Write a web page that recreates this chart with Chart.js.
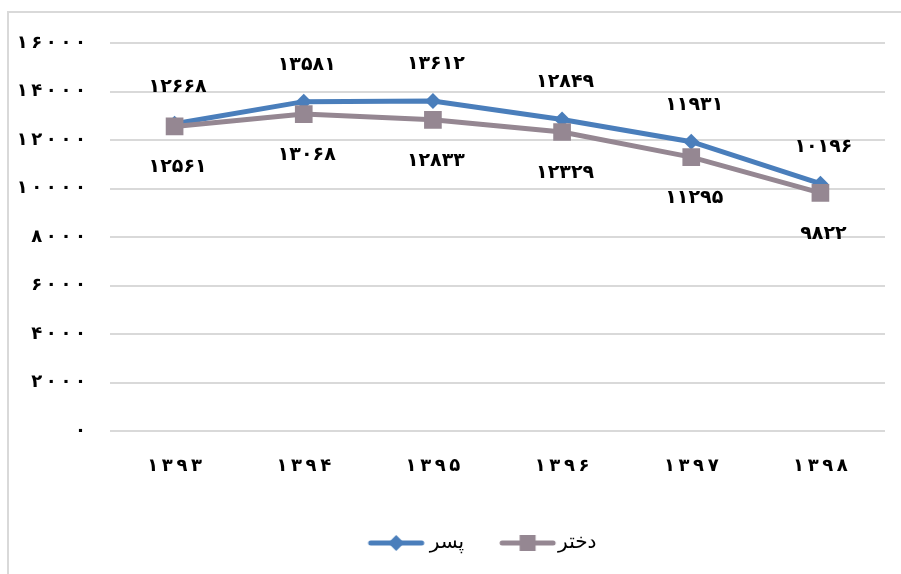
<!DOCTYPE html>
<html>
<head>
<meta charset="utf-8">
<script src="https://cdn.jsdelivr.net/npm/chart.js@4"></script>
<style>
  body { margin: 0; background: #fff; }
  #wrap { position: relative; width: 901px; height: 574px; overflow: hidden; }
  #frame { position: absolute; left: 7px; top: 11px; width: 1000px; height: 1000px; border-left: 2px solid #d9d9d9; border-top: 2px solid #d9d9d9; }
  canvas { position: absolute; left: 0; top: 0; }
</style>
</head>
<body>
<div id="wrap">
  <div id="frame"></div>
  <canvas id="chart" width="901" height="574"></canvas>
</div>
<script>
const years = ['۱۳۹۳', '۱۳۹۴', '۱۳۹۵', '۱۳۹۶', '۱۳۹۷', '۱۳۹۸'];
const boys = [12668, 13581, 13612, 12849, 11931, 10196];
const girls = [12561, 13068, 12833, 12329, 11295, 9822];
const seriesNames = ['پسر', 'دختر'];
const yMax = 16000;
const yStep = 2000;

const blue = '#4a7ebb';
const mauve = '#958792';
const digitFont = 'DejaVu Sans';

// persian digits, spaced out a little like the original
function fa(n, sep) {
    return String(n).replace(/\d/g, d => '۰۱۲۳۴۵۶۷۸۹'[d]).split('').join(sep);
}

// legend symbol: short line with the marker on it (lineX = where the line starts)
function legendIcon(color, shape, lineX) {
    const c = document.createElement('canvas');
    c.width = 100;
    c.height = 20;
    const g = c.getContext('2d');
    const mid = lineX + 27.5;
    g.strokeStyle = color;
    g.lineWidth = 5;
    g.lineCap = 'round';
    g.beginPath();
    g.moveTo(lineX + 2, 10);
    g.lineTo(lineX + 53, 10);
    g.stroke();
    g.fillStyle = color;
    if (shape === 'diamond') {
        g.beginPath();
        g.moveTo(mid, 2);
        g.lineTo(mid + 8, 10);
        g.lineTo(mid, 18);
        g.lineTo(mid - 8, 10);
        g.closePath();
        g.fill();
    } else {
        g.fillRect(mid - 8, 2, 16, 16);
    }
    return c;
}

const icons = [legendIcon(blue, 'diamond', 35), legendIcon(mauve, 'square', 38)];

/* value labels above / below the points */
const valueLabels = {
    id: 'valueLabels',
    afterDatasetsDraw(chart) {
        const ctx = chart.ctx;
        ctx.save();
        ctx.font = 'bold 19px "' + digitFont + '"';
        ctx.fillStyle = '#000';
        ctx.textAlign = 'center';
        ctx.textBaseline = 'middle';
        ctx.letterSpacing = '5px';
        chart.data.datasets.forEach((ds, i) => {
            const meta = chart.getDatasetMeta(i);
            const off = i === 0 ? -37 : 41;
            meta.data.forEach((pt, j) => {
                ctx.fillText(fa(ds.data[j], ''), pt.x + 3, pt.y + off);
            });
        });
        ctx.restore();
    }
};

const ctx = document.getElementById('chart').getContext('2d');
const myChart = new Chart(ctx, {
    type: 'line',
    data: {
        labels: years,
        datasets: [{
            label: seriesNames[0],
            data: boys,
            borderColor: blue,
            backgroundColor: blue,
            borderWidth: 5,
            pointStyle: 'rectRot',
            pointRadius: 8,
            pointHoverRadius: 8,
            pointBorderWidth: 0,
            tension: 0,
            order: 2
        }, {
            label: seriesNames[1],
            data: girls,
            borderColor: mauve,
            backgroundColor: mauve,
            borderWidth: 5,
            pointStyle: 'rect',
            pointRadius: 12.5,
            pointHoverRadius: 12.5,
            pointBorderWidth: 0,
            tension: 0,
            order: 1
        }]
    },
    options: {
        responsive: false,
        animation: false,
        layout: {
            padding: { top: 43, right: 16, bottom: 11, left: 0 }
        },
        scales: {
            y: {
                min: 0,
                max: yMax,
                afterFit(scale) { scale.width = 110; },
                ticks: {
                    stepSize: yStep,
                    padding: 24,
                    color: '#000',
                    font: { family: digitFont, size: 18, weight: 'bold' },
                    callback: v => fa(v, '\u2009')
                },
                grid: {
                    color: '#d9d9d9',
                    lineWidth: 2,
                    drawTicks: false
                },
                border: { display: false }
            },
            x: {
                offset: true,
                afterFit(scale) { scale.height = 90; },
                ticks: {
                    padding: 17,
                    color: '#000',
                    font: { family: digitFont, size: 18, weight: 'bold' },
                    callback: function(v, i) { return years[i].split('').join('\u2009'); }
                },
                grid: { display: false },
                border: { display: false }
            }
        },
        plugins: {
            legend: {
                position: 'bottom',
                fullSize: false,
                labels: {
                    usePointStyle: true,
                    pointStyleWidth: 72,
                    padding: 12,
                    color: '#000',
                    font: { family: 'DejaVu Sans', size: 20 },
                    generateLabels(chart) {
                        return chart.data.datasets.map((ds, i) => ({
                            // trailing spaces only keep the pair where the original has it
                            text: i === 1 ? ds.label + '\u00a0'.repeat(8) : ds.label,
                            pointStyle: icons[i],
                            fillStyle: ds.borderColor,
                            strokeStyle: ds.borderColor,
                            lineWidth: 0,
                            datasetIndex: i
                        }));
                    }
                }
            },
            tooltip: { enabled: false }
        }
    },
    plugins: [valueLabels]
});
</script>
</body>
</html>
